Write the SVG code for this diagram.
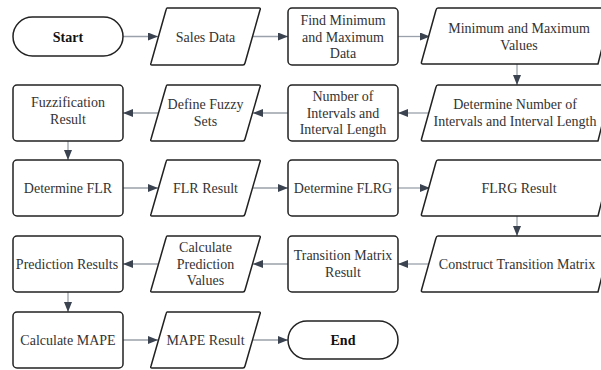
<svg xmlns="http://www.w3.org/2000/svg" width="601" height="370" viewBox="0 0 601 370">
<defs>
<marker id="ah" viewBox="0 0 10 8" refX="10" refY="4" markerWidth="10" markerHeight="8" markerUnits="userSpaceOnUse" orient="auto">
<path d="M0,0 L10,4 L0,8 Z" fill="#3b4350"/>
</marker>
<style>
.s{fill:#fff;stroke:#222;stroke-width:1.5;stroke-linejoin:round}
.t{font-family:"Liberation Serif","Times New Roman",serif;font-size:14px;fill:#333;text-anchor:middle}
.b{font-weight:bold;fill:#111}
.c{fill:none;stroke:#9aa1aa;stroke-width:1.3;marker-end:url(#ah)}
</style>
</defs>
<rect width="601" height="370" fill="#fff"/>
<g id="connectors">
<path class="c" d="M123,36.5 H158"/>
<path class="c" d="M252,36.5 H288"/>
<path class="c" d="M398,36.5 H430"/>
<path class="c" d="M517,64 V85"/>
<path class="c" d="M430,113 H398"/>
<path class="c" d="M288,113 H253"/>
<path class="c" d="M159,113 H123"/>
<path class="c" d="M68,141 V160"/>
<path class="c" d="M123,188 H158"/>
<path class="c" d="M252,188 H288"/>
<path class="c" d="M398,188 H430"/>
<path class="c" d="M517,216 V236"/>
<path class="c" d="M430,264 H398"/>
<path class="c" d="M288,264 H253"/>
<path class="c" d="M159,264 H123"/>
<path class="c" d="M68,292 V312"/>
<path class="c" d="M123,340 H158"/>
<path class="c" d="M252,340 H288"/>
</g>
<g id="start">
<rect class="s" x="13" y="17" width="110" height="39" rx="19.5"/>
<text class="t b" x="68" y="41.5">Start</text>
</g>
<g id="sales-data">
<path class="s" d="M167,8 H259 Q261,8 260,10 L245,63 Q244.5,65 243,65 H152 Q150,65 151,63 L166,10 Q166.5,8 167,8 Z"/>
<text class="t" x="205.5" y="41.5">Sales Data</text>
</g>
<g id="find-minmax">
<rect class="s" x="288" y="8" width="110" height="57" rx="4"/>
<text class="t" x="343" y="25">Find Minimum</text>
<text class="t" x="343" y="41.5">and Maximum</text>
<text class="t" x="343" y="58">Data</text>
</g>
<g id="minmax-values">
<path class="s" d="M438,8 H612 L598,64 H423 Q421,64 421.5,62 L436,10 Q436.5,8 438,8 Z"/>
<text class="t" x="519" y="33">Minimum and Maximum</text>
<text class="t" x="519" y="49.5">Values</text>
</g>
<g id="determine-intervals">
<path class="s" d="M438,85 H612 L598,141 H423 Q421,141 421.5,139 L436,87 Q436.5,85 438,85 Z"/>
<text class="t" x="515" y="109">Determine Number of</text>
<text class="t" x="515" y="125.5">Intervals and Interval Length</text>
</g>
<g id="intervals">
<rect class="s" x="288" y="85" width="110" height="56" rx="4"/>
<text class="t" x="343" y="101">Number of</text>
<text class="t" x="343" y="117.5">Intervals and</text>
<text class="t" x="343" y="134">Interval Length</text>
</g>
<g id="define-fuzzy">
<path class="s" d="M167,85 H259 Q261,85 260,87 L245,139 Q244.5,141 243,141 H152 Q150,141 151,139 L166,87 Q166.5,85 167,85 Z"/>
<text class="t" x="205.5" y="109">Define Fuzzy</text>
<text class="t" x="205.5" y="125.5">Sets</text>
</g>
<g id="fuzzification">
<rect class="s" x="13" y="85" width="110" height="56" rx="4"/>
<text class="t" x="68" y="107">Fuzzification</text>
<text class="t" x="68" y="123.5">Result</text>
</g>
<g id="determine-flr">
<rect class="s" x="13" y="160" width="110" height="56" rx="4"/>
<text class="t" x="68" y="193">Determine FLR</text>
</g>
<g id="flr-result">
<path class="s" d="M167,160 H259 Q261,160 260,162 L245,214 Q244.5,216 243,216 H152 Q150,216 151,214 L166,162 Q166.5,160 167,160 Z"/>
<text class="t" x="205.5" y="193">FLR Result</text>
</g>
<g id="determine-flrg">
<rect class="s" x="288" y="160" width="110" height="56" rx="4"/>
<text class="t" x="343" y="193">Determine FLRG</text>
</g>
<g id="flrg-result">
<path class="s" d="M438,160 H612 L598,216 H423 Q421,216 421.5,214 L436,162 Q436.5,160 438,160 Z"/>
<text class="t" x="519" y="193">FLRG Result</text>
</g>
<g id="construct-matrix">
<path class="s" d="M438,236 H612 L598,292 H423 Q421,292 421.5,290 L436,238 Q436.5,236 438,236 Z"/>
<text class="t" x="517" y="269">Construct Transition Matrix</text>
</g>
<g id="matrix-result">
<rect class="s" x="288" y="236" width="110" height="56" rx="4"/>
<text class="t" x="343" y="260">Transition Matrix</text>
<text class="t" x="343" y="276.5">Result</text>
</g>
<g id="calc-prediction">
<path class="s" d="M167,236 H259 Q261,236 260,238 L245,290 Q244.5,292 243,292 H152 Q150,292 151,290 L166,238 Q166.5,236 167,236 Z"/>
<text class="t" x="205.5" y="252">Calculate</text>
<text class="t" x="205.5" y="268.5">Prediction</text>
<text class="t" x="205.5" y="285">Values</text>
</g>
<g id="prediction-results">
<rect class="s" x="13" y="236" width="110" height="56" rx="4"/>
<text class="t" x="67" y="269">Prediction Results</text>
</g>
<g id="calc-mape">
<rect class="s" x="13" y="312" width="110" height="56" rx="4"/>
<text class="t" x="68" y="345">Calculate MAPE</text>
</g>
<g id="mape-result">
<path class="s" d="M167,312 H259 Q261,312 260,314 L245,366 Q244.5,368 243,368 H152 Q150,368 151,366 L166,314 Q166.5,312 167,312 Z"/>
<text class="t" x="205.5" y="345">MAPE Result</text>
</g>
<g id="end">
<rect class="s" x="288" y="321" width="110" height="38" rx="19"/>
<text class="t b" x="343" y="345">End</text>
</g>
</svg>
